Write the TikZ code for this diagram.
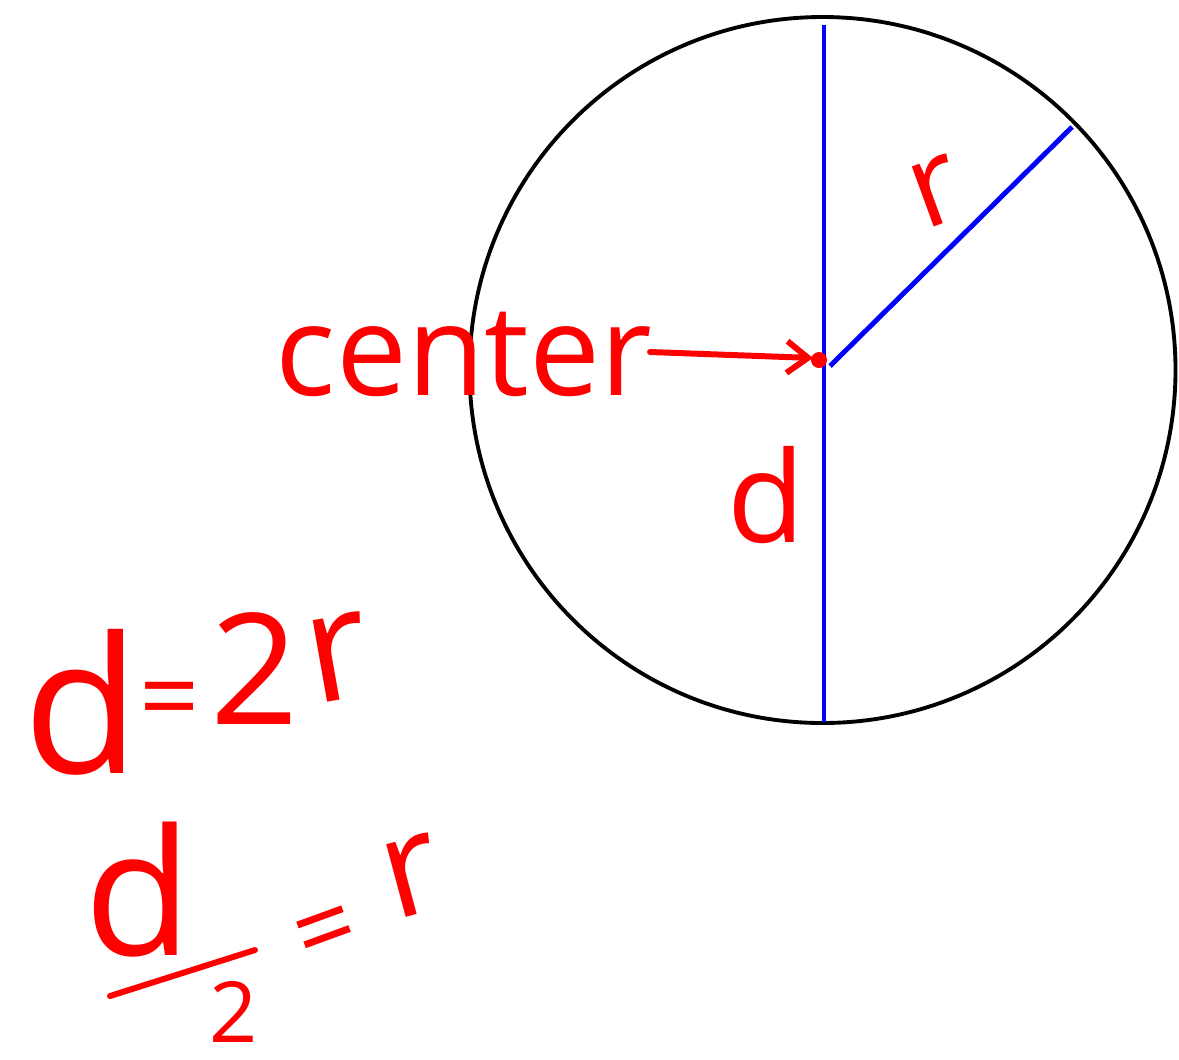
\documentclass[tikz,border=0pt]{standalone}
\usepackage{fontspec}
\setmainfont{Open Sans}
\usetikzlibrary{arrows.meta}
\definecolor{penred}{RGB}{255,0,0}
\definecolor{penblue}{RGB}{0,0,255}
\begin{document}
\begin{tikzpicture}[
  hand/.style={text=penred, inner sep=0pt, font=\fontsize{#1}{#1}\selectfont},
  hand/.default=40,
  stroke/.style={draw=penred, line width=1.7pt, line cap=round},
  diam/.style={draw=penblue, line width=1.4pt}
]
\useasboundingbox (0,0) rectangle (11.79,-10.59);
% circle
\draw[line width=1.1pt] (8.225,-3.70) circle (3.53);
% diameter and radius
\coordinate (top) at (8.24,-0.25);
\coordinate (bot) at (8.24,-7.22);
\coordinate (C) at (8.30,-3.66);
\coordinate (R) at (10.72,-1.27);
\draw[diam] (top) -- (bot);
\draw[diam] (C) -- (R);
% centre dot
\fill[penred] (8.19,-3.60) circle (0.08);
\coordinate (dot) at (8.13,-3.58);
% labels
\node[hand=36, anchor=base] (center) at (4.64,-3.95) {center};
\draw[stroke, -{Straight Barb[length=6pt,width=9pt]}] (6.50,-3.52) -- (dot);
\node[hand=34, rotate=20] (rlab) at (9.36,-1.92) {r};
\node[hand=36] (dlab) at (7.66,-4.95) {d};
% d = 2r
\node[hand=54] (d1) at (0.82,-7.02) {d};
\node[hand=30] (eq1) at (1.70,-7.08) {=};
\node[hand=44] (two1) at (2.55,-6.68) {2};
\node[hand=44, rotate=10] (r1) at (3.38,-6.58) {r};
% d/2 = r
\node[hand=50] (d2) at (1.38,-8.90) {d};
\coordinate (barL) at (1.10,-9.96);
\coordinate (barR) at (2.55,-9.50);
\draw[stroke] (barL) -- (barR);
\node[hand=24] (two2) at (2.34,-10.12) {2};
\node[hand=30, rotate=20] (eq2) at (3.28,-9.38) {=};
\node[hand=40, rotate=15] (r2) at (4.12,-8.76) {r};
\end{tikzpicture}
\end{document}
